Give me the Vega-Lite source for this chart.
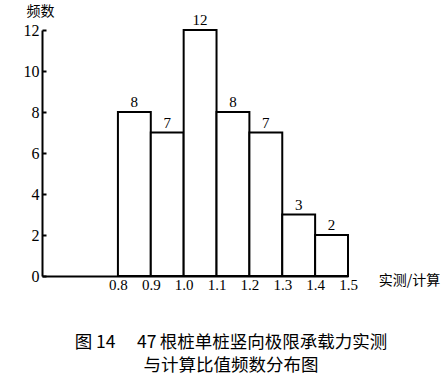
{
  "$schema": "https://vega.github.io/schema/vega-lite/v6.json",
  "autosize": "none",
  "width": 306,
  "height": 246,
  "padding": {"left": 42, "top": 30, "right": 98, "bottom": 111},
  "background": "white",
  "config": {"view": {"stroke": null}},
  "title": {
    "text": ["图 14\u2003 47\u2009根桩单桩竖向极限承载力实测", "与计算比值频数分布图"],
    "orient": "bottom",
    "anchor": "middle",
    "dx": 36,
    "offset": 42,
    "font": "Noto Sans CJK SC",
    "fontSize": 17.5,
    "fontWeight": "normal",
    "lineHeight": 23,
    "color": "black"
  },
  "data": {
    "values": [
      {"start": 0.8, "end": 0.9, "center": 0.85, "count": 8},
      {"start": 0.9, "end": 1.0, "center": 0.95, "count": 7},
      {"start": 1.0, "end": 1.1, "center": 1.05, "count": 12},
      {"start": 1.1, "end": 1.2, "center": 1.15, "count": 8},
      {"start": 1.2, "end": 1.3, "center": 1.25, "count": 7},
      {"start": 1.3, "end": 1.4, "center": 1.35, "count": 3},
      {"start": 1.4, "end": 1.5, "center": 1.45, "count": 2}
    ]
  },
  "layer": [
    {
      "mark": {"type": "bar", "fill": "white", "stroke": "black", "strokeWidth": 2},
      "encoding": {
        "x": {
          "field": "start", "type": "quantitative",
          "scale": {"domain": [0.569, 1.5], "nice": false, "zero": false},
          "axis": {
            "values": [0.8, 0.9, 1.0, 1.1, 1.2, 1.3, 1.4, 1.5],
            "format": ".1f",
            "grid": false,
            "ticks": false,
            "domainColor": "black",
            "domainWidth": 2,
            "labelFont": "Liberation Serif",
            "labelFontSize": 15,
            "labelColor": "black",
            "labelPadding": 1,
            "labelFlush": false,
            "title": "实测/计算",
            "titleFont": "Noto Sans CJK SC",
            "titleFontSize": 14,
            "titleFontWeight": "normal",
            "titleColor": "black",
            "titleX": 367,
            "titleY": 4,
            "titleAlign": "center",
            "titleBaseline": "middle"
          }
        },
        "x2": {"field": "end"},
        "y": {
          "field": "count", "type": "quantitative",
          "scale": {"domain": [0, 12], "nice": false},
          "axis": {
            "values": [0, 2, 4, 6, 8, 10, 12],
            "grid": false,
            "tickSize": -4,
            "tickColor": "black",
            "tickWidth": 2,
            "domainColor": "black",
            "domainWidth": 2,
            "labelFont": "Liberation Serif",
            "labelFontSize": 16,
            "labelColor": "black",
            "labelPadding": 7,
            "labelFlush": false,
            "title": "频数",
            "titleFont": "Noto Sans CJK SC",
            "titleFontSize": 14,
            "titleFontWeight": "normal",
            "titleColor": "black",
            "titleAngle": 0,
            "titleX": -2,
            "titleY": -19,
            "titleAlign": "center",
            "titleBaseline": "middle"
          }
        },
        "y2": {"datum": 0}
      }
    },
    {
      "mark": {"type": "text", "font": "Liberation Serif", "fontSize": 15, "color": "black", "baseline": "bottom", "dy": -2},
      "encoding": {
        "x": {"field": "center", "type": "quantitative"},
        "y": {"field": "count", "type": "quantitative"},
        "text": {"field": "count", "type": "quantitative"}
      }
    }
  ]
}
